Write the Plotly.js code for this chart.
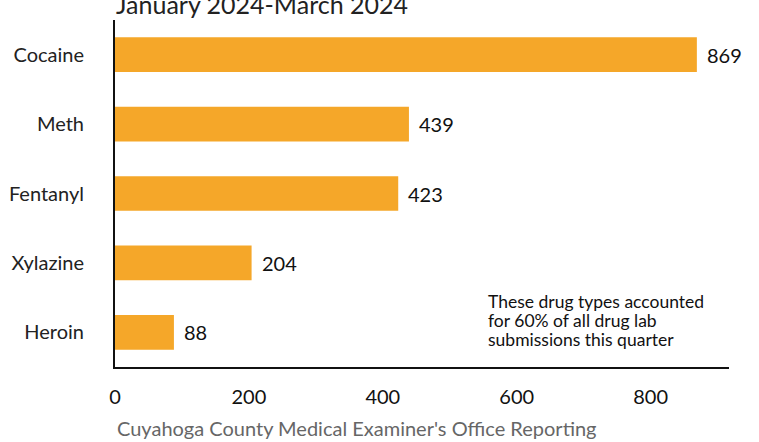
<!DOCTYPE html>
<html>
<head>
<meta charset="utf-8">
<script src="https://cdn.plot.ly/plotly-3.0.1.min.js"></script>
<style>
html,body{margin:0;padding:0;background:#fff;}
#chart{width:759px;height:442px;}
</style>
</head>
<body>
<div id="chart"></div>
<script>
const drugs = ["Cocaine", "Meth", "Fentanyl", "Xylazine", "Heroin"];
const submissions = [869, 439, 423, 204, 88];
const xTicks = [0, 200, 400, 600, 800];
const titleText = "January 2024-March 2024";
const sourceText = "Cuyahoga County Medical Examiner's Office Reporting";
const noteLines = ["These drug types accounted", "for 60% of all drug lab", "submissions this quarter"];

const FONT = "Lato, 'Open Sans', sans-serif";
const barColor = "#F5A729";

const trace = {
  type: "bar",
  orientation: "h",
  x: submissions,
  y: drugs,
  width: 0.5,
  marker: {color: barColor},
  hoverinfo: "none"
};

const annotations = [];
drugs.forEach((d, i) => {
  annotations.push({
    x: submissions[i], y: d, xref: "x", yref: "y",
    text: String(submissions[i]), showarrow: false,
    xanchor: "left", yanchor: "middle", xshift: 8,
    font: {family: FONT, size: 20, color: "#111"}
  });
});
annotations.push({
  x: 0, y: 1, xref: "paper", yref: "paper", xanchor: "left", yanchor: "bottom",
  xshift: -1, yshift: -1,
  text: titleText, showarrow: false,
  font: {family: FONT, size: 25, color: "#222"}
});
annotations.push({
  x: 0, y: 0, xref: "paper", yref: "paper", xanchor: "left", yanchor: "middle",
  yshift: -61,
  text: sourceText, showarrow: false,
  font: {family: FONT, size: 20, color: "#666"}
});
noteLines.forEach((t, i) => {
  annotations.push({
    x: 0.605, y: 0, xref: "paper", yref: "paper", xanchor: "left", yanchor: "middle",
    yshift: 66 - i * 19,
    text: t, showarrow: false,
    font: {family: FONT, size: 17.5, color: "#111"}
  });
});

const layout = {
  width: 759, height: 442,
  margin: {l: 115, r: 30, t: 20, b: 75},
  paper_bgcolor: "#fff", plot_bgcolor: "#fff",
  showlegend: false,
  font: {family: FONT, size: 20, color: "#222"},
  xaxis: {
    range: [0, 917],
    tickvals: xTicks,
    ticktext: xTicks.map(String),
    showgrid: false, zeroline: false,
    showline: true, linecolor: "#111", linewidth: 2,
    ticks: "outside", ticklen: 11, tickcolor: "rgba(0,0,0,0)",
    tickfont: {family: FONT, size: 20, color: "#111"},
    fixedrange: true
  },
  yaxis: {
    range: [4.5, -0.5],
    type: "category",
    showgrid: false, zeroline: false,
    showline: true, linecolor: "#111", linewidth: 2,
    ticks: "outside", ticklen: 25, tickcolor: "rgba(0,0,0,0)",
    tickfont: {family: FONT, size: 20, color: "#222"},
    fixedrange: true
  },
  annotations: annotations
};

Plotly.newPlot("chart", [trace], layout, {displayModeBar: false, staticPlot: true});
</script>
</body>
</html>
